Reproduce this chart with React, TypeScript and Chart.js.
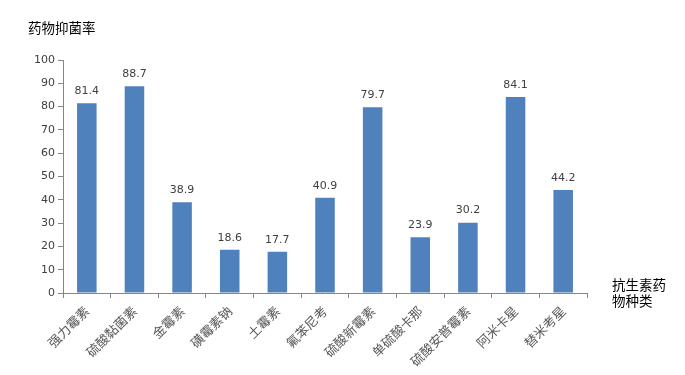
import React, { useEffect, useRef } from "react";
import { Chart, registerables } from "chart.js";

Chart.register(...registerables);

const categories = ["强力霉素", "硫酸黏菌素", "金霉素", "磺霉素钠", "土霉素", "氟苯尼考", "硫酸新霉素", "单硫酸卡那", "硫酸安普霉素", "阿米卡星", "替米考星"];
const values = [81.4, 88.7, 38.9, 18.6, 17.7, 40.9, 79.7, 23.9, 30.2, 84.1, 44.2];
const yTitle = "药物抑菌率";
const xTitleLines = ["抗生素药", "物种类"];

const labelsPlugin = {
  id: "customLabels",
  afterDatasetsDraw(chart: any) {
    const ctx = chart.ctx;
    const meta = chart.getDatasetMeta(0);
    ctx.save();
    ctx.font = "11px 'DejaVu Sans'";
    ctx.fillStyle = "#404040";
    ctx.textAlign = "center";
    ctx.textBaseline = "middle";
    meta.data.forEach((bar: any, i: number) => {
      ctx.fillText(values[i].toFixed(1), bar.x, bar.y - 12);
    });
    ctx.font = "13.5px 'Noto Sans CJK SC'";
    ctx.fillStyle = "#000000";
    ctx.textAlign = "left";
    ctx.fillText(yTitle, 28, 28);
    const xa = chart.scales.x;
    xTitleLines.forEach((t, i) => {
      ctx.fillText(t, xa.right + 25, xa.top - 8 + i * 16);
    });
    ctx.restore();
  },
};

export default function App() {
  const ref = useRef<HTMLCanvasElement>(null);
  useEffect(() => {
    if (!ref.current) return;
    const chart = new Chart(ref.current, {
      type: "bar",
      data: {
        labels: categories,
        datasets: [
          {
            data: values,
            backgroundColor: "#4F81BD",
            borderWidth: 0,
            barPercentage: 0.41,
            categoryPercentage: 1,
          },
        ],
      },
      options: {
        animation: false,
        responsive: false,
        maintainAspectRatio: false,
        layout: { padding: { top: 60, right: 98, left: 0, bottom: 0 } },
        plugins: { legend: { display: false }, tooltip: { enabled: false } },
        scales: {
          y: {
            min: 0,
            max: 100,
            ticks: {
              stepSize: 10,
              color: "#404040",
              font: { family: "'DejaVu Sans'", size: 11 },
              padding: 3,
            },
            grid: { display: true, drawOnChartArea: false, drawTicks: true, tickLength: 5, color: "#868686" },
            border: { color: "#868686" },
            afterFit: (s: any) => {
              s.width = 63;
            },
          },
          x: {
            ticks: {
              color: "#595959",
              font: { family: "'Noto Sans CJK SC'", size: 13 },
              maxRotation: 45,
              minRotation: 45,
              autoSkip: false,
              padding: 5,
            },
            grid: { display: true, offset: true, drawOnChartArea: false, drawTicks: true, tickLength: 5, color: "#868686" },
            border: { color: "#868686" },
            afterFit: (s: any) => {
              s.height = 82;
            },
          },
        },
      },
      plugins: [labelsPlugin],
    });
    return () => chart.destroy();
  }, []);
  return (
    <div style={{ position: "fixed", left: 0, top: 0, width: 685, height: 375, background: "#fff" }}>
      <canvas ref={ref} width={685} height={375} style={{ width: 685, height: 375 }} />
    </div>
  );
}
